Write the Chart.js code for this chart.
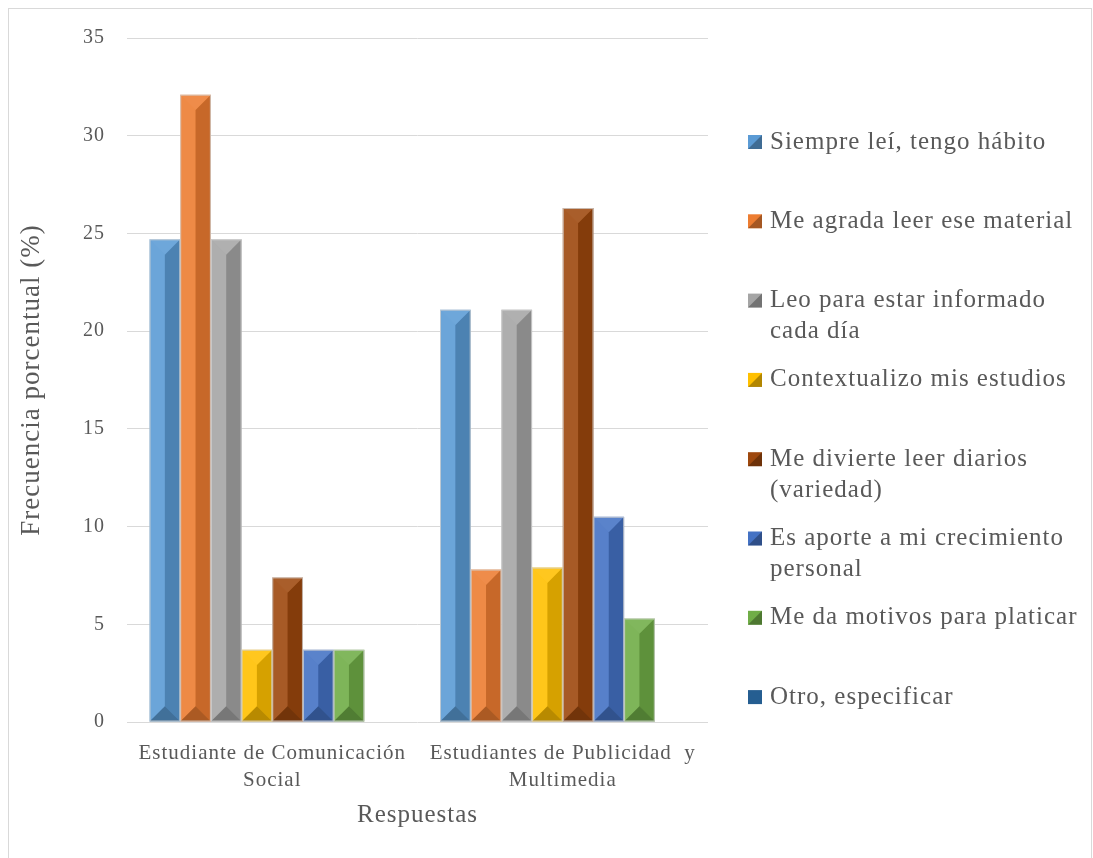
<!DOCTYPE html>
<html>
<head>
<meta charset="utf-8">
<script src="https://cdn.jsdelivr.net/npm/chart.js@4"></script>
<style>
  body { margin: 0; background: #fff; }
  #marco { position: absolute; left: 8px; top: 8px; width: 1082px; height: 870px; border: 1px solid #d9d9d9; }
  #caja { position: absolute; left: 0; top: 0; width: 1093px; height: 858px; }
</style>
</head>
<body>
<div id="marco"></div>
<div id="caja"><canvas id="grafico"></canvas></div>
<script>
// Categorías (eje X)
const categorias = [['Estudiante de Comunicación', 'Social'], ['Estudiantes de Publicidad  y', 'Multimedia']];

// Motivos de lectura (series)
const series = [
  ['Siempre leí, tengo hábito'],
  ['Me agrada leer ese material'],
  ['Leo para estar informado', 'cada día'],
  ['Contextualizo mis estudios'],
  ['Me divierte leer diarios', '(variedad)'],
  ['Es aporte a mi crecimiento', 'personal'],
  ['Me da motivos para platicar'],
  ['Otro, especificar']
];

// Valores por serie: [Comunicación Social, Publicidad y Multimedia]
const siempre = [24.7, 21.1];
const agrada = [32.1, 7.8];
const informado = [24.7, 21.1];
const contextualizo = [3.7, 7.9];
const divierte = [7.4, 26.3];
const aporte = [3.7, 10.5];
const platicar = [3.7, 5.3];
const otro = [0, 0];

const valores = [siempre, agrada, informado, contextualizo, divierte, aporte, platicar, otro];
const colores = ['#5B9BD5', '#ED7D31', '#A5A5A5', '#FFC000', '#9E480E', '#4472C4', '#70AD47', '#255E91'];

const gris = '#595959';
const fuente = 'Liberation Serif';

// letra un poco más abierta, como la del original
const espaciado = {
  id: 'espaciado',
  beforeLayout(chart) { chart.ctx.letterSpacing = '1px'; },
  beforeDraw(chart) { chart.ctx.letterSpacing = '1px'; }
};

// Efecto de bisel parecido al de Excel
const bisel = {
  id: 'bisel',
  afterDatasetsDraw(chart) {
    const c = chart.ctx;
    c.save();
    chart.data.datasets.forEach((ds, i) => {
      chart.getDatasetMeta(i).data.forEach(bar => {
        const { x, y, base, width } = bar.getProps(['x', 'y', 'base', 'width'], true);
        if (base - y < 1) return;
        const l = x - width / 2, r = x + width / 2, t = y, b = base;
        const h = Math.min(width / 2, (b - t) / 2);
        const poly = (pts, color) => {
          c.beginPath();
          c.moveTo(pts[0][0], pts[0][1]);
          pts.slice(1).forEach(p => c.lineTo(p[0], p[1]));
          c.closePath();
          c.fillStyle = color;
          c.fill();
        };
        poly([[l, t], [x, t + h], [x, b - h], [l, b]], 'rgba(255,255,255,0.10)');
        poly([[r, t], [x, t + h], [x, b - h], [r, b]], 'rgba(0,0,0,0.16)');
        poly([[l, t], [r, t], [x, t + h]], 'rgba(255,255,255,0.12)');
        poly([[l, b], [r, b], [x, b - h]], 'rgba(0,0,0,0.28)');
        c.strokeStyle = 'rgba(210,210,210,0.8)';
        c.lineWidth = 1;
        c.strokeRect(l + 0.5, t + 0.5, width - 1, b - t - 1);
      });
    });
    c.restore();
  }
};

// Leyenda a la derecha con textos en varias líneas
const leyenda = {
  id: 'leyenda',
  afterDraw(chart) {
    const c = chart.ctx;
    const x0 = chart.chartArea.right + 40;
    const y0 = 142, paso = 79.3, linea = 31;
    c.save();
    c.font = '25px "' + fuente + '"';
    c.textBaseline = 'middle';
    c.textAlign = 'left';
    series.forEach((lineas, i) => {
      const yc = y0 + paso * i;
      c.fillStyle = colores[i];
      c.fillRect(x0, yc - 7, 14, 14);
      if (i < series.length - 1) {
        c.fillStyle = 'rgba(0,0,0,0.3)';
        c.beginPath();
        c.moveTo(x0 + 14, yc - 7);
        c.lineTo(x0 + 14, yc + 7);
        c.lineTo(x0, yc + 7);
        c.closePath();
        c.fill();
      }
      c.fillStyle = gris;
      lineas.forEach((t, k) => c.fillText(t, x0 + 22, yc + k * linea));
    });
    c.restore();
  }
};

new Chart(document.getElementById('grafico'), {
  type: 'bar',
  data: {
    labels: categorias,
    datasets: series.map((s, i) => ({
      label: s.join(' '),
      data: valores[i],
      backgroundColor: colores[i],
      borderWidth: 0
    }))
  },
  options: {
    responsive: true,
    maintainAspectRatio: false,
    animation: false,
    categoryPercentage: 0.845,
    barPercentage: 1,
    layout: { padding: { left: 0, right: 385, top: 38, bottom: 0 } },
    plugins: { legend: { display: false }, tooltip: { enabled: false } },
    scales: {
      x: {
        grid: { display: false },
        border: { display: false },
        ticks: { color: gris, padding: 10, font: { family: fuente, size: 21, lineHeight: 1.3 }, maxRotation: 0 },
        title: { display: true, text: 'Respuestas', color: gris, font: { family: fuente, size: 25 }, padding: { top: 0, bottom: 28 } },
        afterFit(s) { s.height = 136; }
      },
      y: {
        min: 0,
        max: 35,
        ticks: { stepSize: 5, color: gris, padding: 22, font: { family: fuente, size: 20 } },
        grid: { color: '#d9d9d9', lineWidth: 1, drawTicks: false },
        border: { display: false },
        title: { display: true, text: 'Frecuencia porcentual (%)', color: gris, font: { family: fuente, size: 27 }, padding: { top: 16, bottom: 0 } },
        afterFit(s) { s.width = 127; }
      }
    }
  },
  plugins: [espaciado, bisel, leyenda]
});
</script>
</body>
</html>
